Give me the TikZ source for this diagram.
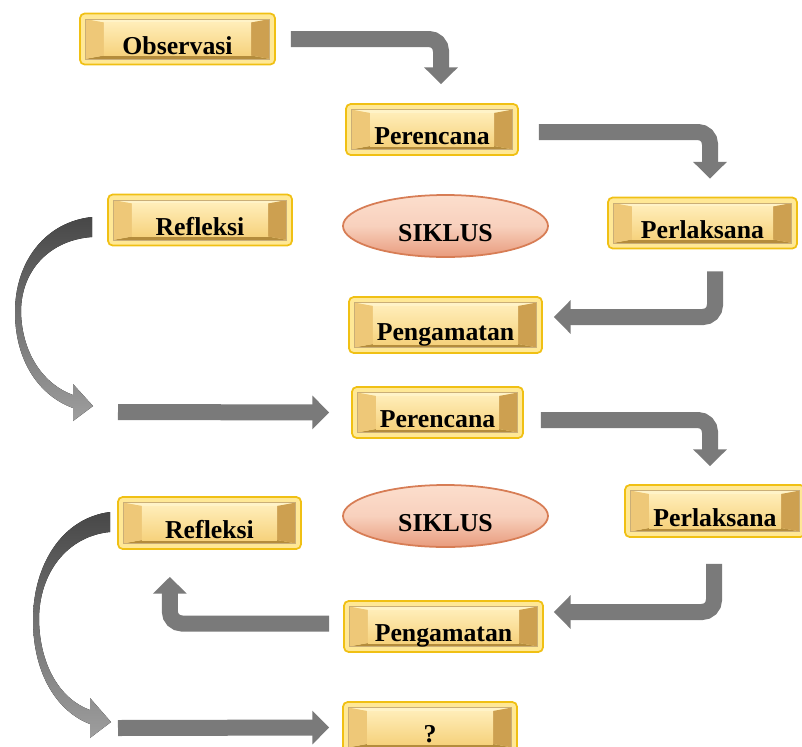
\documentclass[tikz,border=0pt]{standalone}
\usepackage{fontspec}
\setmainfont{Liberation Serif}
\usepackage{tikz}
\usetikzlibrary{arrows.meta,shapes.geometric,calc}

\definecolor{emasTepi}{RGB}{240,192,20}
\definecolor{emasMuda}{RGB}{255,232,150}
\definecolor{emasTerang}{RGB}{255,243,200}
\definecolor{emasGelap}{RGB}{180,140,60}
\definecolor{emasKiri}{RGB}{238,200,120}
\definecolor{emasKanan}{RGB}{205,160,80}
\definecolor{emasAtas}{RGB}{255,237,184}
\definecolor{emasBawah}{RGB}{246,210,125}
\definecolor{abu}{RGB}{122,122,122}
\definecolor{salemTepi}{RGB}{215,125,85}
\definecolor{salemMuda}{RGB}{252,222,205}
\definecolor{salemTua}{RGB}{232,155,125}

\newcommand\judul{\bfseries\fontsize{22}{26}\selectfont}

\tikzset{
  tahap/.style={rectangle, rounded corners=4pt, draw=emasTepi, line width=1.5pt,
    fill=emasMuda, font=\judul, text height=0.9cm, text depth=0pt, inner sep=0pt,
    minimum height=1.53cm,
    path picture={
      \coordinate (p1) at ([shift={(0.17cm,0.17cm)}]path picture bounding box.south west);
      \coordinate (p2) at ([shift={(-0.17cm,-0.17cm)}]path picture bounding box.north east);
      \coordinate (q1) at ([shift={(0.55cm,0.1cm)}]p1);
      \coordinate (q2) at ([shift={(-0.55cm,-0.1cm)}]p2);
      \fill[sharp corners,emasTerang] (p1 |- p2) -- (p2) -- (q2) -- (q1 |- q2) -- cycle;
      \fill[sharp corners,emasGelap] (p1) -- (p2 |- p1) -- (q2 |- q1) -- (q1) -- cycle;
      \fill[sharp corners,emasKiri] (p1) -- (p1 |- p2) -- (q1 |- q2) -- (q1) -- cycle;
      \fill[sharp corners,emasKanan] (p2 |- p1) -- (p2) -- (q2) -- (q2 |- q1) -- cycle;
      \shade[sharp corners,top color=emasAtas,bottom color=emasBawah] (q1) rectangle (q2);
      \draw[sharp corners,emasGelap!70,line width=0.4pt] (p1) rectangle (p2);
    }},
  siklus/.style={ellipse, draw=salemTepi, line width=1.5pt, top color=salemMuda,
    bottom color=salemTua, middle color=salemMuda!80!salemTua, font=\judul,
    text height=0.9cm, text depth=0pt, inner sep=0pt,
    minimum width=6.15cm, minimum height=1.86cm},
  panah/.style={draw=abu, line width=0.48cm, rounded corners=0.36cm,
    -{Triangle[length=0.5cm,width=0.98cm]}},
  sabit/.style={top color=black!72, bottom color=black!38, draw=none}
}

\begin{document}
\begin{tikzpicture}[x=0.03cm,y=-0.03cm]
\useasboundingbox (0,0) rectangle (802,747);

% {Siklus 1}
\begin{scope}
\node[tahap, minimum width=5.85cm] (obs) at (177.5,39) {Observasi};
\node[tahap, minimum width=5.16cm] (per1) at (432,129.5) {Perencana};
\node[tahap, minimum width=5.52cm] (ref1) at (200,220) {Refleksi};
\node[siklus] (sik1) at (445.5,226) {SIKLUS};
\node[tahap, minimum width=5.67cm] (pls1) at (702.5,223) {Perlaksana};
\node[tahap, minimum width=5.79cm, minimum height=1.68cm] (pgm1) at (445.5,325) {Pengamatan};

\draw[panah] ([xshift=0.45cm]obs.east) -| ([xshift=0.27cm,yshift=0.57cm]per1.north);
\draw[panah] ([xshift=0.6cm,yshift=-0.075cm]per1.east) -| ([xshift=0.225cm,yshift=0.54cm]pls1.north);
\draw[panah] ([xshift=0.375cm,yshift=-0.66cm]pls1.south) |- ([xshift=0.33cm,yshift=0.24cm]pgm1.east);

\fill[sabit] (92,217) .. controls (45,222) and (15,262) .. (15,312)
  .. controls (15,362) and (40,396) .. (73,408) -- (73,421) -- (93,406) -- (73,384)
  -- (73,395) .. controls (45,385) and (22,355) .. (21,312)
  .. controls (21,270) and (50,240) .. (92,237) -- cycle;
\end{scope}

% {Siklus 2}
\begin{scope}
\node[tahap, minimum width=5.13cm] (per2) at (437.5,412.5) {Perencana};
\node[tahap, minimum width=5.49cm, minimum height=1.56cm] (ref2) at (209.5,523) {Refleksi};
\node[siklus] (sik2) at (445.5,516) {SIKLUS};
\node[tahap, minimum width=5.4cm, minimum height=1.56cm] (pls2) at (715,511) {Perlaksana};
\node[tahap, minimum width=5.97cm] (pgm2) at (443.5,626.5) {Pengamatan};
\node[tahap, minimum width=5.22cm] (tanya) at (430,727.5) {?};

\coordinate (awal1) at (118,412);
\coordinate (awal2) at (118,728);

\draw[panah] (awal1) -- ([xshift=-0.66cm]per2.west);
\draw[panah] ([xshift=0.51cm,yshift=-0.225cm]per2.east) -| ([xshift=-0.15cm,yshift=0.54cm]pls2.north);
\draw[panah] ([xshift=-0.03cm,yshift=-0.78cm]pls2.south) |- ([xshift=0.3cm,yshift=0.435cm]pgm2.east);
\draw[panah] ([xshift=-0.42cm,yshift=0.09cm]pgm2.west) -| ([xshift=-1.19cm,yshift=-0.81cm]ref2.south);
\draw[panah] (awal2) -- ([xshift=-0.39cm]tanya.west);

\fill[sabit] (110,512) .. controls (62,518) and (33,565) .. (33,620)
  .. controls (33,675) and (58,712) .. (90,724) -- (90,738) -- (111,722) -- (90,698)
  -- (90,710) .. controls (62,700) and (40,668) .. (39,620)
  .. controls (39,572) and (68,536) .. (110,532) -- cycle;
\end{scope}

\end{tikzpicture}
\end{document}
